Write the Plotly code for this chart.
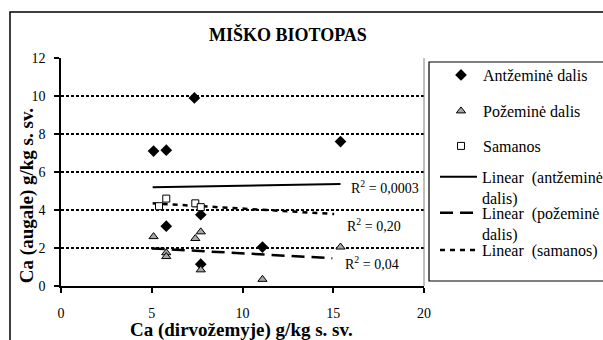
import plotly.graph_objects as go

# Calcium in soil (x) vs. calcium in plant parts (y), forest biotope
above_x = [5.1, 5.8, 7.35, 15.4, 5.8, 7.7, 7.7, 11.1]
above_y = [7.1, 7.15, 9.9, 7.6, 3.15, 3.75, 1.15, 2.05]

below_x = [5.1, 5.8, 5.8, 7.4, 7.7, 7.7, 11.1, 15.4]
below_y = [2.6, 1.75, 1.55, 2.5, 2.85, 0.85, 0.35, 2.05]

moss_x = [5.4, 5.8, 7.4, 7.7]
moss_y = [4.2, 4.6, 4.35, 4.15]

# Linear trendline end points
trend_above_x = [5.05, 15.4]
trend_above_y = [5.2, 5.37]
trend_below_x = [5.0, 14.95]
trend_below_y = [1.98, 1.46]
trend_moss_x = [5.05, 15.05]
trend_moss_y = [4.35, 3.79]

r2_labels = ["R<sup>2</sup> = 0,0003", "R<sup>2</sup> = 0,20", "R<sup>2</sup> = 0,04"]
r2_x = [15.85, 15.65, 15.55]
r2_y = [5.21, 3.21, 1.21]

x_ticks = [0, 5, 10, 15, 20]
y_ticks = [0, 2, 4, 6, 8, 10, 12]

SERIF = "Liberation Serif, Times New Roman, serif"

fig = go.Figure()

fig.add_trace(go.Scatter(
    x=trend_above_x, y=trend_above_y, mode="lines",
    name="Linear  (antžeminė<br>dalis)", legend="legend4",
    line=dict(color="black", width=2),
))
fig.add_trace(go.Scatter(
    x=trend_below_x, y=trend_below_y, mode="lines",
    name="Linear  (požeminė<br>dalis)", legend="legend5",
    line=dict(color="black", width=2.5, dash="13px,7px"),
))
fig.add_trace(go.Scatter(
    x=trend_moss_x, y=trend_moss_y, mode="lines",
    name="Linear  (samanos)", legend="legend6",
    line=dict(color="black", width=2.5, dash="5px,5px"),
))

fig.add_trace(go.Scatter(
    x=above_x, y=above_y, mode="markers", name="Antžeminė dalis",
    legend="legend",
    marker=dict(symbol="diamond", size=9, color="black",
                line=dict(color="black", width=0)),
))
fig.add_trace(go.Scatter(
    x=below_x, y=below_y, mode="markers", name="Požeminė dalis",
    legend="legend2",
    marker=dict(symbol="triangle-up", size=8, color="#a6a6a6",
                line=dict(color="black", width=1)),
))
fig.add_trace(go.Scatter(
    x=moss_x, y=moss_y, mode="markers", name="Samanos",
    legend="legend3",
    marker=dict(symbol="square", size=7, color="white",
                line=dict(color="black", width=1)),
))

for text, xv, yv in zip(r2_labels, r2_x, r2_y):
    fig.add_annotation(x=xv, y=yv, text=text, showarrow=False,
                       xanchor="left", yanchor="middle",
                       font=dict(family=SERIF, size=14, color="black"))

# Titles
fig.add_annotation(x=0.625, y=1.105, xref="paper", yref="paper",
                   text="<b>MIŠKO BIOTOPAS</b>", showarrow=False,
                   xanchor="center", yanchor="middle",
                   font=dict(family=SERIF, size=18, color="black"))
fig.add_annotation(x=0.4986, y=-0.193, xref="paper", yref="paper",
                   text="<b>Ca (dirvožemyje) g/kg s. sv.</b>", showarrow=False,
                   xanchor="center", yanchor="middle",
                   font=dict(family=SERIF, size=19, color="black"))
fig.add_annotation(x=-0.094, y=0.398, xref="paper", yref="paper",
                   text="<b>Ca (augale) g/kg s. sv.</b>", showarrow=False,
                   textangle=-90, xanchor="center", yanchor="middle",
                   font=dict(family=SERIF, size=19, color="black"))

# Chart frame, legend frame and right edge of the plot area
fig.add_shape(type="rect", xref="paper", yref="paper",
              x0=-0.1405, x1=1.8, y0=-0.6, y1=1.2018,
              line=dict(color="black", width=1.5), layer="below")
fig.add_shape(type="rect", xref="paper", yref="paper",
              x0=1.0138, x1=1.8, y0=0.0219, y1=0.9825,
              line=dict(color="black", width=1.2), layer="below")
fig.add_shape(type="line", xref="x domain", yref="y domain",
              x0=1, x1=1, y0=0, y1=1,
              line=dict(color="#808080", width=1))

legend_font = dict(family=SERIF, size=16, color="black")
legend_common = dict(xanchor="left", yanchor="middle", bgcolor="rgba(0,0,0,0)",
                     borderwidth=0, font=legend_font, valign="top")

fig.update_layout(
    width=603, height=340,
    margin=dict(l=61, r=179, t=58, b=54, autoexpand=False),
    font=dict(family=SERIF, color="black"),
    paper_bgcolor="white", plot_bgcolor="white",
    showlegend=True,
    legend=dict(x=1.0413, y=0.9254, itemwidth=34, **legend_common),
    legend2=dict(x=1.0413, y=0.7675, itemwidth=34, **legend_common),
    legend3=dict(x=1.0413, y=0.614, itemwidth=34, **legend_common),
    legend4=dict(x=1.0303, y=0.4325, itemwidth=37, **legend_common),
    legend5=dict(x=1.0303, y=0.2746, itemwidth=37, **legend_common),
    legend6=dict(x=1.0303, y=0.1579, itemwidth=37, **legend_common),
    xaxis=dict(range=[0, 20], tickvals=x_ticks, showgrid=False, zeroline=False,
               showline=True, linecolor="black", linewidth=1.5,
               ticks="outside", ticklen=5, tickwidth=1.5, tickcolor="black",
               ticklabelstandoff=8,
               tickfont=dict(family=SERIF, size=14, color="black")),
    yaxis=dict(range=[0, 12], tickvals=y_ticks, showgrid=True,
               gridcolor="black", gridwidth=1.5, griddash="3px,2px",
               zeroline=False, showline=True, linecolor="black", linewidth=1.5,
               ticks="outside", ticklen=5, tickwidth=1.5, tickcolor="black",
               ticklabelstandoff=6,
               tickfont=dict(family=SERIF, size=14, color="black")),
)

fig.write_html("out.html")
